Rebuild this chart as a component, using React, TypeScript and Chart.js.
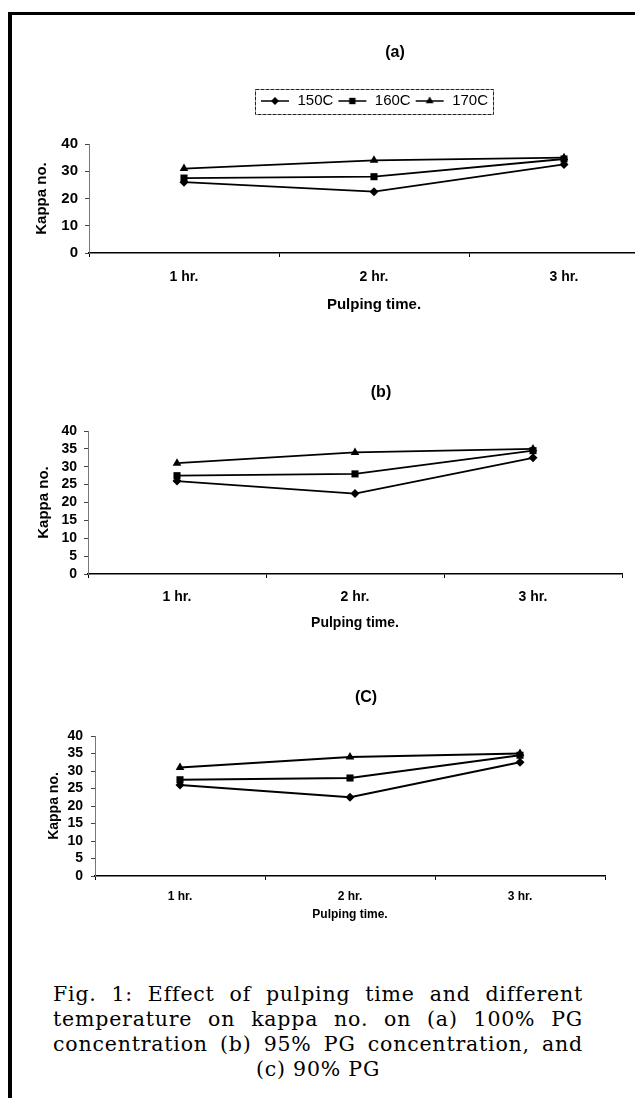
import React, { useEffect, useRef } from "react";
import { Chart, registerables } from "chart.js";

Chart.register(...registerables);

// ---------- data ----------
const timeLabels = ["1 hr.", "2 hr.", "3 hr."];
const seriesLabels = ["150C", "160C", "170C"];
const kappa150C = [26, 22.5, 32.5];
const kappa160C = [27.5, 28, 34.5];
const kappa170C = [31, 34, 35];
const panelTitles = ["(a)", "(b)", "(C)"];
const yTickSteps = [10, 5, 5];
const yMin = 0;
const yMax = 40;
const xAxisTitle = "Pulping time.";
const yAxisTitle = "Kappa no.";
const captionLines = [
  "Fig. 1: Effect of pulping time and different",
  "temperature on kappa no. on (a) 100% PG",
  "concentration (b) 95% PG concentration, and",
  "(c) 90% PG",
];

// ---------- styling ----------
const SANS = "'Liberation Sans', Arial, Helvetica, sans-serif";
const SERIF = "'DejaVu Serif', 'Liberation Serif', serif";
const markerStyles = ["rectRot", "rect", "triangle"];
const markerRadii = [4.5, 5, 5];

type Panel = {
  left: number;
  top: number;
  width: number;
  height: number;
  yAxisWidth: number;
  rightGap: number;
  xAxisHeight: number;
  titlePadTop: number;
  titlePadBottom: number;
  showLegend: boolean;
  legendExtra: number;
  xTickFont: number;
  xTickPad: number;
  xTitleFont: number;
  xTitlePadBottom: number;
  yTickFont: number;
  yTickPad: number;
  yTitleFont: number;
  yTitlePadTop: number;
};

const panels: Panel[] = [
  {
    left: 12, top: 30, width: 766, height: 300,
    yAxisWidth: 77, rightGap: 119, xAxisHeight: 77,
    titlePadTop: 13.4, titlePadBottom: 26.9,
    showLegend: true, legendExtra: 25.5,
    xTickFont: 14, xTickPad: 11.6, xTitleFont: 15, xTitlePadBottom: 16,
    yTickFont: 15, yTickPad: 7, yTitleFont: 15, yTitlePadTop: 21,
  },
  {
    left: 12, top: 365, width: 738, height: 280,
    yAxisWidth: 76, rightGap: 128, xAxisHeight: 71,
    titlePadTop: 18.4, titlePadBottom: 28.4,
    showLegend: false, legendExtra: 0,
    xTickFont: 14, xTickPad: 10.6, xTitleFont: 14, xTitlePadBottom: 13.6,
    yTickFont: 14, yTickPad: 7, yTitleFont: 15, yTitlePadTop: 23,
  },
  {
    left: 12, top: 670, width: 708, height: 265,
    yAxisWidth: 83, rightGap: 115, xAxisHeight: 59,
    titlePadTop: 18.4, titlePadBottom: 28.4,
    showLegend: false, legendExtra: 0,
    xTickFont: 12, xTickPad: 9.8, xTitleFont: 12, xTitlePadBottom: 12.8,
    yTickFont: 14, yTickPad: 8, yTitleFont: 14, yTitlePadTop: 33.6,
  },
];

function drawMarker(ctx: CanvasRenderingContext2D, style: string, cx: number, cy: number, r: number) {
  ctx.beginPath();
  if (style === "rectRot") {
    ctx.moveTo(cx, cy - r);
    ctx.lineTo(cx + r, cy);
    ctx.lineTo(cx, cy + r);
    ctx.lineTo(cx - r, cy);
  } else if (style === "rect") {
    const h = r * Math.SQRT1_2;
    ctx.rect(cx - h, cy - h, 2 * h, 2 * h);
  } else {
    const h = r;
    ctx.moveTo(cx, cy - h);
    ctx.lineTo(cx + h * 0.87, cy + h * 0.5);
    ctx.lineTo(cx - h * 0.87, cy + h * 0.5);
  }
  ctx.closePath();
  ctx.fill();
}

function makeLegendSymbol(style: string, r: number): HTMLCanvasElement {
  const c = document.createElement("canvas");
  c.width = 30;
  c.height = 12;
  const ctx = c.getContext("2d")!;
  ctx.strokeStyle = "#000";
  ctx.fillStyle = "#000";
  ctx.lineWidth = 1.5;
  ctx.beginPath();
  ctx.moveTo(1, 6);
  ctx.lineTo(29, 6);
  ctx.stroke();
  drawMarker(ctx, style, 15, 6, r);
  return c;
}

const legendTweaks = {
  id: "legendTweaks",
  beforeLayout(chart: any, _args: any, opts: any) {
    const lg = chart.legend;
    if (!lg || lg.__patched) return;
    const orig = lg.fit.bind(lg);
    lg.fit = function () {
      orig();
      if (this.options && this.options.display) this.height += (opts && opts.extra) || 0;
    };
    lg.__patched = true;
  },
  afterDraw(chart: any, _args: any, opts: any) {
    const lg = chart.legend;
    if (!opts || !opts.border || !lg || !lg.options.display) return;
    const boxes = lg.legendHitBoxes || [];
    if (!boxes.length) return;
    const l = Math.min(...boxes.map((b: any) => b.left)) - 5;
    const r = Math.max(...boxes.map((b: any) => b.left + b.width)) + 5;
    const t = Math.min(...boxes.map((b: any) => b.top)) - 5;
    const bt = Math.max(...boxes.map((b: any) => b.top + b.height)) + 5;
    const ctx = chart.ctx;
    ctx.save();
    ctx.strokeStyle = "#222";
    ctx.lineWidth = 1;
    ctx.setLineDash([4, 1]);
    ctx.strokeRect(Math.round(l) + 0.5, Math.round(t) + 0.5, Math.round(r - l), Math.round(bt - t));
    ctx.restore();
  },
};

function buildConfig(p: Panel, idx: number): any {
  const seriesValues = [kappa150C, kappa160C, kappa170C];
  const symbols = markerStyles.map((s, i) => makeLegendSymbol(s, markerRadii[i] - 0.5));
  return {
    type: "line",
    data: {
      labels: timeLabels,
      datasets: seriesLabels.map((name, i) => ({
        label: name,
        data: seriesValues[i],
        borderColor: "#000",
        backgroundColor: "#000",
        borderWidth: 1.8,
        pointStyle: markerStyles[i],
        pointRadius: markerRadii[i],
        pointBackgroundColor: "#000",
        pointBorderColor: "#000",
        pointBorderWidth: 0,
        tension: 0,
        clip: false,
      })),
    },
    options: {
      responsive: false,
      animation: false,
      devicePixelRatio: 1,
      events: [],
      layout: { padding: 0 },
      plugins: {
        tooltip: { enabled: false },
        title: {
          display: true,
          text: panelTitles[idx],
          color: "#000",
          font: { family: SANS, size: 16, weight: "bold" },
          padding: { top: p.titlePadTop, bottom: p.titlePadBottom },
        },
        legend: {
          display: p.showLegend,
          position: "top",
          fullSize: false,
          labels: {
            usePointStyle: true,
            pointStyleWidth: 30,
            padding: 4,
            color: "#000",
            font: { family: SANS, size: 15 },
            generateLabels: (chart: any) =>
              chart.data.datasets.map((ds: any, i: number) => ({
                text: ds.label,
                pointStyle: symbols[i],
                fillStyle: "#000",
                strokeStyle: "#000",
                lineWidth: 0,
                hidden: false,
                datasetIndex: i,
                fontColor: "#000",
              })),
          },
        },
        legendTweaks: { extra: p.legendExtra, border: p.showLegend },
      },
      scales: {
        x: {
          type: "category",
          offset: true,
          grid: {
            display: true,
            offset: true,
            drawOnChartArea: false,
            drawTicks: true,
            tickLength: 4,
            color: "#000",
          },
          border: { display: true, color: "#000", width: 1.5 },
          ticks: {
            color: "#000",
            padding: p.xTickPad,
            maxRotation: 0,
            autoSkip: false,
            font: { family: SANS, size: p.xTickFont, weight: "bold" },
          },
          title: {
            display: true,
            text: xAxisTitle,
            color: "#000",
            font: { family: SANS, size: p.xTitleFont, weight: "bold" },
            padding: { top: 0, bottom: p.xTitlePadBottom },
          },
          afterFit: (s: any) => {
            s.height = p.xAxisHeight;
          },
        },
        y: {
          type: "linear",
          position: "left",
          min: yMin,
          max: yMax,
          ticks: {
            stepSize: yTickSteps[idx],
            autoSkip: false,
            color: "#000",
            padding: p.yTickPad,
            font: { family: SANS, size: p.yTickFont, weight: "bold" },
          },
          grid: {
            display: true,
            drawOnChartArea: false,
            drawTicks: true,
            tickLength: 4,
            color: "#444",
          },
          border: { display: true, color: "#777", width: 1, dash: [2, 2] },
          title: {
            display: true,
            text: yAxisTitle,
            color: "#000",
            font: { family: SANS, size: p.yTitleFont, weight: "bold" },
            padding: { top: p.yTitlePadTop, bottom: 0 },
          },
          afterFit: (s: any) => {
            s.width = p.yAxisWidth;
          },
        },
        spacer: {
          type: "linear",
          position: "right",
          display: true,
          min: 0,
          max: 1,
          ticks: { display: false },
          grid: { display: false, drawTicks: false },
          border: { display: false },
          afterFit: (s: any) => {
            s.width = p.rightGap;
          },
        },
      },
    },
    plugins: [legendTweaks],
  };
}

function PanelChart({ p, idx }: { p: Panel; idx: number }) {
  const ref = useRef<HTMLCanvasElement | null>(null);
  useEffect(() => {
    if (!ref.current) return;
    const chart = new Chart(ref.current, buildConfig(p, idx));
    return () => chart.destroy();
  }, [p, idx]);
  return (
    <canvas
      ref={ref}
      width={p.width}
      height={p.height}
      style={{ position: "absolute", left: p.left, top: p.top, width: p.width, height: p.height }}
    />
  );
}

export default function App() {
  return (
    <div
      style={{
        position: "fixed",
        left: 0,
        top: 0,
        width: 635,
        height: 1098,
        overflow: "hidden",
        background: "#fff",
      }}
    >
      <div
        style={{
          position: "absolute",
          left: 8,
          top: 12,
          width: 800,
          height: 1200,
          borderLeft: "4px solid #000",
          borderTop: "3px solid #000",
        }}
      />
      {panels.map((p, i) => (
        <PanelChart key={i} p={p} idx={i} />
      ))}
      <div
        style={{
          position: "absolute",
          left: 53,
          top: 982,
          width: 530,
          fontFamily: SERIF,
          fontSize: 20.5,
          lineHeight: "25px",
          letterSpacing: "0.8px",
          color: "#000",
        }}
      >
        {captionLines.map((line, i) => (
          <div
            key={i}
            style={{
              textAlign: i === captionLines.length - 1 ? "center" : "justify",
              textAlignLast: i === captionLines.length - 1 ? "center" : "justify",
              whiteSpace: "nowrap",
            } as any}
          >
            {line}
          </div>
        ))}
      </div>
    </div>
  );
}
